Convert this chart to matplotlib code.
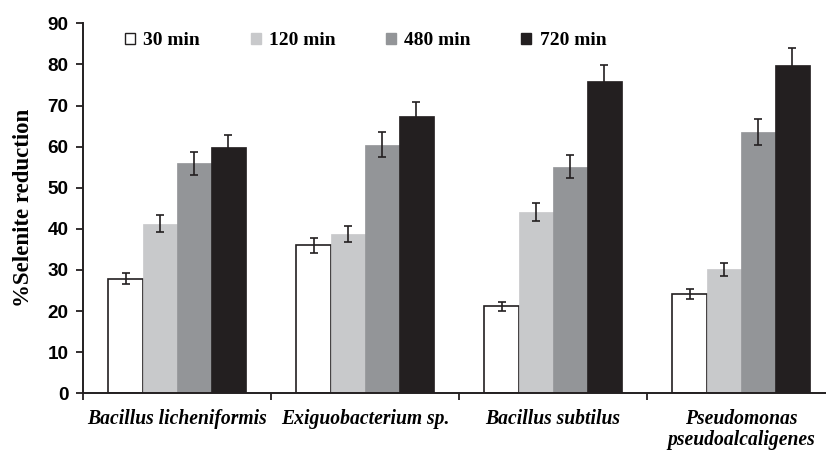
import matplotlib
matplotlib.use("Agg")
import matplotlib.pyplot as plt
import numpy as np
from matplotlib.patches import Patch

categories = ["Bacillus licheniformis", "Exiguobacterium sp.", "Bacillus subtilus",
              "Pseudomonas\npseudoalcaligenes"]
series_names = ["30 min", "120 min", "480 min", "720 min"]
values = {
    "30 min":  [27.9, 36.0, 21.2, 24.2],
    "120 min": [41.3, 38.7, 44.1, 30.2],
    "480 min": [55.9, 60.5, 55.1, 63.6],
    "720 min": [59.9, 67.4, 75.9, 79.9],
}
errors = {
    "30 min":  [1.4, 1.8, 1.1, 1.2],
    "120 min": [2.1, 2.0, 2.3, 1.6],
    "480 min": [2.8, 3.0, 2.8, 3.2],
    "720 min": [3.0, 3.4, 3.9, 4.0],
}
yticks = [0, 10, 20, 30, 40, 50, 60, 70, 80, 90]

colors = ["#ffffff", "#c8c9cb", "#939598", "#231f20"]
edges = ["#231f20", "#c8c9cb", "#939598", "#231f20"]

fig = plt.figure(figsize=(8.26, 4.51), dpi=100)
ax = fig.add_axes([83/826, 57.7/451, 1 - 83/826, (393.3-23.3)/451])

x = np.arange(len(categories))
w = 0.1825
for i, s in enumerate(series_names):
    pos = x + (i - 1.5) * w
    ax.bar(pos, values[s], width=w, color=colors[i],
           edgecolor=edges[i], linewidth=1.2 if i == 0 else 0.5, zorder=2)
    ax.errorbar(pos, values[s], yerr=errors[s], fmt="none", ecolor="#231f20",
                elinewidth=1.2, capsize=3.2, capthick=1.2, zorder=3)

ax.set_xlim(-0.5, -0.5 + (826 - 83) / 188)
ax.set_ylim(0, 90)
ax.set_yticks(yticks)
ax.set_yticklabels([str(t) for t in yticks], fontfamily="Liberation Sans",
                   fontweight="bold", fontsize=13.6)
ax.set_xticks([-0.5, 0.5, 1.5, 2.5])
ax.set_xticklabels([])
ax.set_xticks(x, minor=True)
ax.set_xticklabels(categories, minor=True, fontfamily="Liberation Serif",
                   fontweight="bold", fontstyle="italic", fontsize=14.1,
                   linespacing=1.12, va="top")
ax.tick_params(axis="x", which="minor", length=0, pad=11)
ax.tick_params(axis="x", which="major", length=5, width=1.3, color="#231f20", direction="out")
ax.tick_params(axis="y", length=5, width=1.3, color="#231f20", direction="out", pad=5.5)

for sp in ["top", "right"]:
    ax.spines[sp].set_visible(False)
for sp in ["left", "bottom"]:
    ax.spines[sp].set_linewidth(1.4)
    ax.spines[sp].set_color("#231f20")

ax.set_ylabel("%Selenite reduction", fontfamily="Liberation Serif",
              fontweight="bold", fontsize=16.5, labelpad=10)

handles = [Patch(facecolor=colors[i], edgecolor=edges[i], linewidth=1.0)
           for i in range(4)]
leg = fig.legend(handles, series_names, loc="center left",
                 bbox_to_anchor=(125/826, 1 - 40.7/451), ncol=4, frameon=False,
                 borderpad=0, borderaxespad=0,
                 handlelength=0.52, handleheight=0.52, handletextpad=0.42,
                 columnspacing=2.6,
                 prop={"family": "Liberation Serif", "weight": "bold", "size": 14})

fig.savefig("out.png", dpi=100)
